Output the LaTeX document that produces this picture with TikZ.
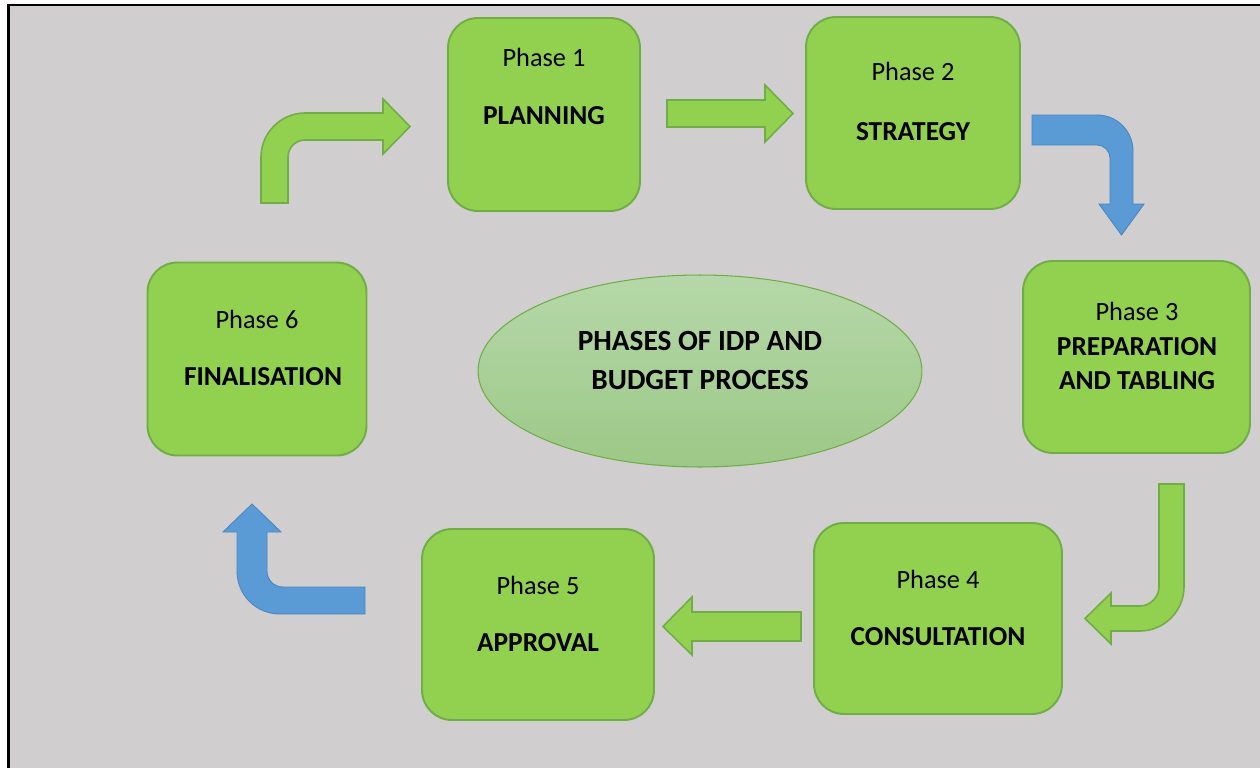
\documentclass[tikz,border=0pt]{standalone}
\usepackage{fontspec}
\setmainfont{Carlito}
\usetikzlibrary{shapes.geometric}

\definecolor{bg}{HTML}{D0CECE}
\definecolor{boxfill}{HTML}{92D050}
\definecolor{boxline}{HTML}{70AD47}
\definecolor{bluef}{HTML}{5B9BD5}
\definecolor{bluel}{HTML}{4A86C2}
\definecolor{hubtop}{HTML}{B6D8A9}
\definecolor{hubbot}{HTML}{9CC887}

\begin{document}
\begin{tikzpicture}[x=0.02cm,y=-0.02cm]
 \tikzstyle{box} = [draw=boxline,fill=boxfill,line width=1.1pt,rounded corners=17pt,inner sep=0pt];
 \tikzstyle{hub} = [ellipse,draw=boxline,line width=0.6pt,top color=hubtop,bottom color=hubbot,inner sep=0pt];
 \tikzstyle{ptitle} = [anchor=base,inner sep=0pt,font=\fontsize{15}{18}\selectfont];
 \tikzstyle{pname} = [anchor=base,inner sep=0pt,font=\fontsize{15.6}{18}\selectfont\bfseries];
 \tikzstyle{hubtext} = [anchor=base,inner sep=0pt,font=\fontsize{16.7}{20}\selectfont\bfseries];
 \tikzstyle{garrow} = [draw=boxline,fill=boxfill,line width=0.9pt];
 \tikzstyle{barrow} = [draw=bluel,fill=bluef,line width=0.5pt];

 % page and frame
 \useasboundingbox (0,0) rectangle (1260,767);
 \fill[white] (0,0) rectangle (1260,767);
 \fill[bg] (8.5,5) rectangle (1262,769);
 \draw[line width=1.2pt] (1262,5) -- (8.5,5) -- (8.5,769);

 % phases
 \node[box,minimum width=3.84cm,minimum height=3.86cm] (p1) at (544,114.5) {};
 \node[box,minimum width=4.28cm,minimum height=3.84cm] (p2) at (913,113) {};
 \node[box,minimum width=4.54cm,minimum height=3.84cm] (p3) at (1136.5,357) {};
 \node[box,minimum width=4.96cm,minimum height=3.82cm] (p4) at (938,618.5) {};
 \node[box,minimum width=4.64cm,minimum height=3.82cm] (p5) at (538,624.5) {};
 \node[box,minimum width=4.38cm,minimum height=3.86cm] (p6) at (257,359) {};

 \node[ptitle] (t1) at (544,66.5) {Phase 1};
 \node[pname]  (n1) at (544,124.5) {PLANNING};
 \node[ptitle] (t2) at (913,80.5) {Phase 2};
 \node[pname]  (n2) at (913,140.5) {STRATEGY};
 \node[ptitle] (t3) at (1137,320.5) {Phase 3};
 \node[pname]  (n3a) at (1137,355.5) {PREPARATION};
 \node[pname]  (n3b) at (1137,389.5) {AND TABLING};
 \node[ptitle] (t4) at (938,588.5) {Phase 4};
 \node[pname]  (n4) at (938,645.5) {CONSULTATION};
 \node[ptitle] (t5) at (538,594.5) {Phase 5};
 \node[pname]  (n5) at (538,651.5) {APPROVAL};
 \node[ptitle] (t6) at (257,328) {Phase 6};
 \node[pname]  (n6) at (263,385) {FINALISATION};

 % centre
 \node[hub,minimum width=8.88cm,minimum height=3.84cm] (hub) at (700,371) {};
 \node[hubtext] (h1) at (700,350.5) {PHASES OF IDP AND};
 \node[hubtext] (h2) at (700,389) {BUDGET PROCESS};

 % block arrows
 \draw[garrow] (261,203) -- (261,157) .. controls (261,133) and (281,113) .. (305,113)
   -- (383,113) -- (383,99) -- (410,126.5) -- (383,154) -- (383,140) -- (305,140)
   .. controls (295.6,140) and (288,147.6) .. (288,157) -- (288,203) -- cycle;
 \draw[garrow] (667,100) -- (765,100) -- (765,85) -- (793,113.5) -- (765,142)
   -- (765,127) -- (667,127) -- cycle;
 \draw[barrow] (1032,115) -- (1097,115) .. controls (1117,115) and (1133,131) .. (1133,151)
   -- (1133,204) -- (1144,204) -- (1121.5,235) -- (1099,204) -- (1110,204) -- (1110,158)
   .. controls (1110,151) and (1104,145) .. (1097,145) -- (1032,145) -- cycle;
 \draw[garrow] (1159,484) -- (1184,484) -- (1184,587) .. controls (1184,611) and (1164,631) .. (1140,631)
   -- (1111,631) -- (1111,644) -- (1085,618.5) -- (1111,593) -- (1111,606) -- (1140,606)
   .. controls (1150.5,606) and (1159,596.5) .. (1159,587) -- cycle;
 \draw[garrow] (801,612) -- (692,612) -- (692,597) -- (663,626.5) -- (692,655)
   -- (692,641) -- (801,641) -- cycle;
 \draw[barrow] (365,614) -- (280,614) .. controls (256,614) and (237,595) .. (237,571)
   -- (237,532) -- (223,532) -- (252,504) -- (281,532) -- (267,532) -- (267,571)
   .. controls (267,580) and (274,587) .. (283,587) -- (365,587) -- cycle;
\end{tikzpicture}
\end{document}
